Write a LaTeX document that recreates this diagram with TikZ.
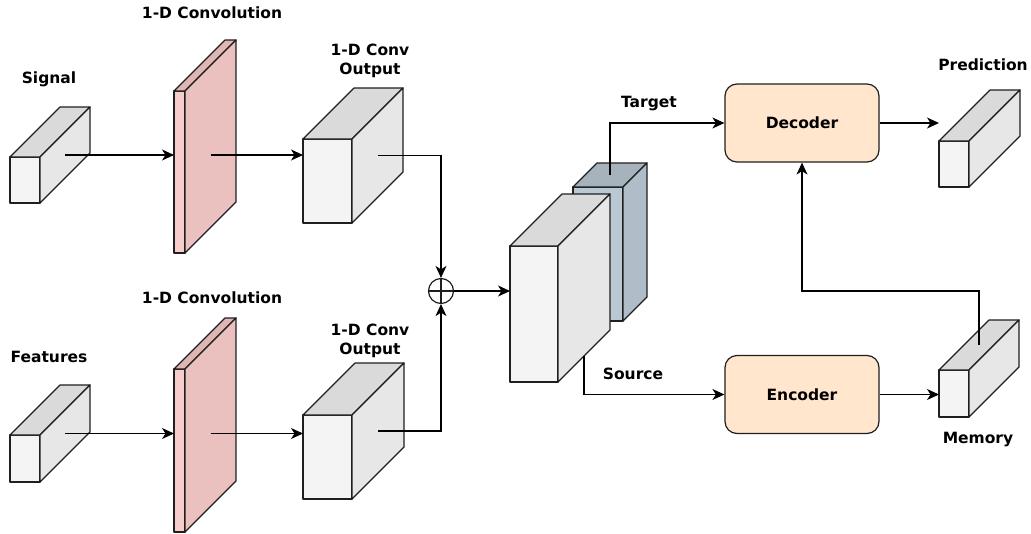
\documentclass[tikz,border=0pt]{standalone}
\usepackage{fontspec}
\setmainfont{DejaVu Sans}
\usetikzlibrary{arrows.meta,calc}

\definecolor{edge}{HTML}{1F1F1F}
\definecolor{gfront}{HTML}{F4F4F4}
\definecolor{gtop}{HTML}{DADADA}
\definecolor{gside}{HTML}{E7E7E7}
\definecolor{pfront}{HTML}{F6CDCB}
\definecolor{ptop}{HTML}{DFB6B4}
\definecolor{pside}{HTML}{EAC1BF}
\definecolor{bfront}{HTML}{BAC8D3}
\definecolor{btop}{HTML}{A6B3BD}
\definecolor{bside}{HTML}{B0BDC8}
\definecolor{peach}{HTML}{FFE6CC}

\tikzset{
  face/.style={draw=edge, line width=1.2pt, line join=round},
  conn/.style={draw=black, line width=1.2pt},
  tipA/.tip={Stealth[length=12pt, width=11pt, inset=3.5pt]},
  arr/.style={conn, -tipA},
  lbl/.style={font=\bfseries\fontsize{15.5}{19}\selectfont, inner sep=0pt, align=center},
  block/.style={draw=edge, fill=peach, rounded corners=12pt, line width=1.2pt,
    minimum width=154, minimum height=78, inner sep=0pt,
    font=\bfseries\fontsize{15.5}{19}\selectfont},
}

% box in cabinet view: #1 name, #2/#3 front top-left, #4 width, #5 height,
% #6 depth, #7 front fill, #8 top fill, #9 side fill
\newcommand\cuboid[9]{%
  \path[face, fill=#7] (#2,#3) rectangle ++(#4,#5);
  \path[face, fill=#8] (#2,#3) -- ++(#6,-#6) -- ++(#4,0) -- ++(-#6,#6) -- cycle;
  \path[face, fill=#9] (#2+#4,#3) -- ++(#6,-#6) -- ++(0,#5) -- ++(-#6,#6) -- cycle;
  \node[inner sep=0pt, outer sep=0pt, minimum width=#4+#6, minimum height=#5+#6,
        anchor=north west] (#1) at (#2,#3-#6) {};
  \coordinate (#1-s) at (#2+#4+#6/2, #3+#5/2-#6/2);
  \coordinate (#1-t) at (#2+#4/2+#6/2, #3-#6/2);
  \coordinate (#1-b) at (#2+#4+#6/2, #3+#5-#6/2);
}

\begin{document}
\begin{tikzpicture}[x=1pt, y=-1pt]
\path[fill=white] (0,0) rectangle (1031,533);
\useasboundingbox (0,0) rectangle (1031,533);

% input branches
\cuboid{sig}{10}{157}{30}{46}{50}{gfront}{gtop}{gside}
\cuboid{convA}{174}{91}{11}{162}{51}{pfront}{ptop}{pside}
\cuboid{outA}{303}{139}{49}{84}{51}{gfront}{gtop}{gside}

\cuboid{feat}{10}{435}{30}{47}{50}{gfront}{gtop}{gside}
\cuboid{convB}{174}{369}{11}{163}{51}{pfront}{ptop}{pside}
\cuboid{outB}{303}{415}{49}{84}{52}{gfront}{gtop}{gside}

% stacked embedding
\cuboid{tgt}{573}{187}{50}{134}{24}{bfront}{btop}{bside}
\cuboid{src}{510}{246}{48}{136}{52}{gfront}{gtop}{gside}

% outputs
\cuboid{pred}{939}{141}{30}{46}{51}{gfront}{gtop}{gside}
\cuboid{mem}{939}{370}{30}{47}{50}{gfront}{gtop}{gside}

% transformer blocks
\node[block] (dec) at (802,123) {Decoder};
\node[block] (enc) at (802,394.5) {Encoder};

% summation
\node[circle, draw=edge, line width=1.2pt, minimum size=25, inner sep=0pt,
      path picture={\draw[line width=1.2pt] (path picture bounding box.north) -- (path picture bounding box.south)
                    (path picture bounding box.west) -- (path picture bounding box.east);}]
      (sum) at (441,291) {};

% labels
\node[lbl] (lconvA) at (212,13) {1-D Convolution};
\node[lbl] (lsig) at (49,79) {Signal};
\node[lbl] (loutA) at (370,61) {1-D Conv\\Output};
\node[lbl] (lconvB) at (212,298) {1-D Convolution};
\node[lbl] (lfeat) at (49,357) {Features};
\node[lbl] (loutB) at (370,341) {1-D Conv\\Output};
\node[lbl] (ltgt) at (649,104) {Target};
\node[lbl] (lsrc) at (633,374) {Source};
\node[lbl] (lpred) at (983,65) {Prediction};
\node[lbl] (lmem) at (978,440) {Memory};

% connectors
\draw[arr] (sig-s) -- (sig-s -| convA.west);
\draw[arr] (convA-s |- sig-s) -- (sig-s -| outA.west);
\draw[arr] (outA-s) -- (outA-s -| sum) -- (sum.north);

\draw[arr] (feat-s) -- (feat-s -| convB.west);
\draw[arr] (convB-s |- feat-s) -- (feat-s -| outB.west);
\draw[arr] (outB-s) -- (outB-s -| sum) -- (sum.south);

\draw[arr] (sum.east) -- (sum.east -| src.west);
\draw[arr] (tgt-t) |- (dec.west);
\draw[arr] (src-b) |- (enc.west);
\draw[arr] (dec.east) -- (dec.east -| pred.west);
\draw[arr] (enc.east) -- (enc.east -| mem.west);
\draw[arr] (mem-t) -- ++(0,-54) -| (dec.south);
\end{tikzpicture}
\end{document}
